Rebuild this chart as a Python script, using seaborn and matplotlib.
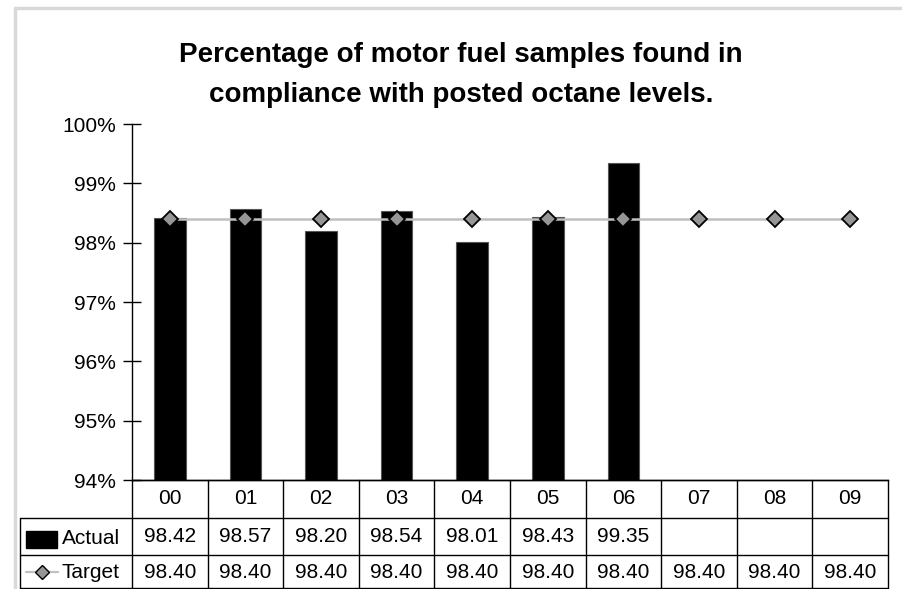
import matplotlib
matplotlib.use("Agg")
import matplotlib.pyplot as plt
import matplotlib.transforms as mtransforms
from matplotlib.lines import Line2D
from matplotlib.patches import Rectangle
import numpy as np
import seaborn as sns

years = ["00", "01", "02", "03", "04", "05", "06", "07", "08", "09"]
actual = [98.42, 98.57, 98.20, 98.54, 98.01, 98.43, 99.35, np.nan, np.nan, np.nan]
target = [98.40] * 10
y_ticks = [94, 95, 96, 97, 98, 99, 100]

sns.set_style("white")
plt.rcParams['font.family'] = ['Liberation Sans', 'DejaVu Sans']
plt.rcParams['text.color'] = 'black'
plt.rcParams['ytick.color'] = 'black'
plt.rcParams['ytick.labelcolor'] = 'black'

W, H = 903, 589
fig = plt.figure(figsize=(W / 100, H / 100), dpi=100)

def fx(px):
    return px / W

def fy(py):
    return 1 - py / H

ax_l, ax_r, ax_t, ax_b = 132, 888, 124, 480
ax = fig.add_axes([fx(ax_l), fy(ax_b), fx(ax_r - ax_l), (ax_b - ax_t) / H])

sns.barplot(x=years, y=actual, color="black", width=0.42, edgecolor="#555555",
            linewidth=0.8, saturation=1, ax=ax)
sns.lineplot(x=years, y=target, color="#c0c0c0", linewidth=1.8, marker="D",
             markersize=8, markerfacecolor="#969696", markeredgecolor="black",
             markeredgewidth=1.3, ax=ax, zorder=3)

fs = 15
ax.set_xlim(-0.5, 9.5)
ax.set_ylim(94, 100)
ax.set_yticks(y_ticks)
ax.set_yticklabels([f"{v}%" for v in y_ticks], fontsize=fs)
ax.set_xticks([])
ax.set_xlabel("")
ax.set_ylabel("")
for s in ["top", "right"]:
    ax.spines[s].set_visible(False)
ax.spines["left"].set_color("black")
ax.spines["bottom"].set_color("black")
ax.spines["left"].set_linewidth(1)
ax.spines["bottom"].set_linewidth(1)
ax.tick_params(axis="y", direction="inout", length=13, width=1, color="black", left=True, pad=5)

fig.text(fx(461), fy(55), "Percentage of motor fuel samples found in",
         ha="center", va="center", fontsize=20, fontweight="bold")
fig.text(fx(461), fy(95), "compliance with posted octane levels.",
         ha="center", va="center", fontsize=20, fontweight="bold")

# data table under the plot
tr = mtransforms.blended_transform_factory(ax.transData, fig.transFigure)
rows_y = [480, 518, 555, 588]
tbl_left = 20
lc = "black"
lw = 1
for i, py in enumerate(rows_y):
    x0 = fx(ax_l) if i == 0 else fx(tbl_left)
    fig.add_artist(Line2D([x0, fx(ax_r)], [fy(py), fy(py)], color=lc, lw=lw))
for k in range(len(years) + 1):
    xd = k - 0.5
    fig.add_artist(Line2D([xd, xd], [fy(480), fy(588)], color=lc, lw=lw, transform=tr))
fig.add_artist(Line2D([fx(tbl_left), fx(tbl_left)], [fy(518), fy(588)], color=lc, lw=lw))

for k, yr in enumerate(years):
    fig.text(k, fy(499), yr, transform=tr, ha="center", va="center", fontsize=fs)
    if not np.isnan(actual[k]):
        fig.text(k, fy(537), f"{actual[k]:.2f}", transform=tr, ha="center", va="center", fontsize=fs)
    fig.text(k, fy(572), f"{target[k]:.2f}", transform=tr, ha="center", va="center", fontsize=fs)

# legend keys in table
fig.add_artist(Rectangle((fx(26), fy(548)), fx(31), 17 / H, facecolor="black",
                         edgecolor="black", transform=fig.transFigure))
fig.text(fx(62), fy(538), "Actual", ha="left", va="center", fontsize=fs)
fig.add_artist(Line2D([fx(26), fx(58)], [fy(572), fy(572)], color="#c0c0c0", lw=1.6))
fig.add_artist(Line2D([fx(42)], [fy(572)], lw=0, marker="D",
                      markersize=7, markerfacecolor="#969696", markeredgecolor="black",
                      markeredgewidth=1))
fig.text(fx(62), fy(572), "Target", ha="left", va="center", fontsize=fs)

# outer chart frame
fig.add_artist(Line2D([fx(15), fx(15)], [fy(8), 0], color="#d9d9d9", lw=2.5))
fig.add_artist(Line2D([fx(15), 1], [fy(8), fy(8)], color="#d9d9d9", lw=2.5))

fig.savefig("out.png", dpi=100)
